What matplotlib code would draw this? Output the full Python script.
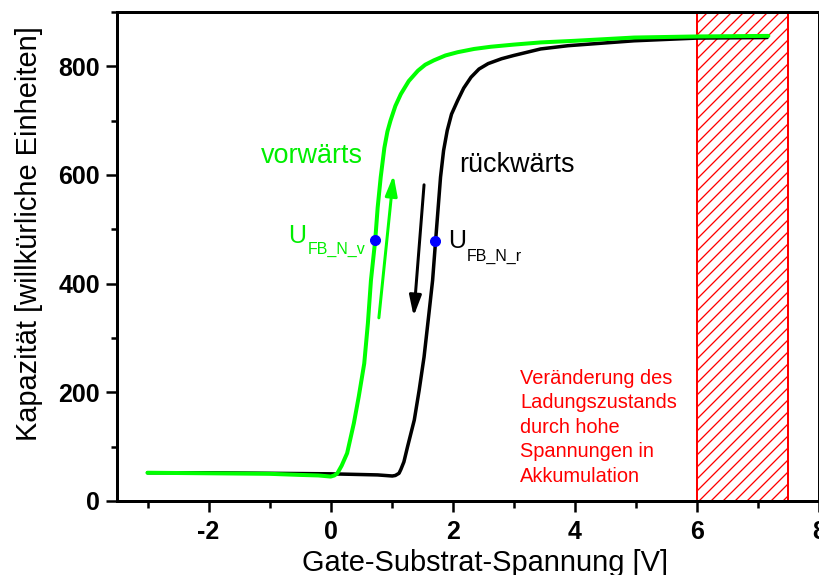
import matplotlib.pyplot as plt
from matplotlib.ticker import MultipleLocator

plt.rcParams['font.family'] = ['Liberation Sans', 'DejaVu Sans']
plt.rcParams['hatch.linewidth'] = 1.3
plt.rcParams['axes.unicode_minus'] = False

# vorwärts sweep (green)
fwd_v = [-3.0, -2.0, -1.0, -0.5, -0.2, 0.0, 0.06, 0.11, 0.18, 0.27, 0.38, 0.46,
         0.55, 0.61, 0.66, 0.73, 0.77, 0.82, 0.88, 0.93, 0.98, 1.06, 1.15, 1.28,
         1.43, 1.55, 1.69, 1.88, 2.08, 2.35, 2.62, 3.0, 3.44, 4.0, 4.97, 6.0, 7.17]
fwd_c = [52, 51, 50, 48, 47, 45, 47, 51, 65, 88, 143, 192,
         253, 327, 406, 480, 540, 596, 650, 680, 700, 727, 749, 773,
         792, 803, 811, 820, 826, 832, 836, 840, 844, 847, 853, 855, 856]

# rückwärts sweep (black)
bwd_v = [7.15, 6.0, 4.97, 3.89, 3.44, 3.0, 2.8, 2.58, 2.43, 2.3, 2.18, 2.08,
         1.98, 1.91, 1.85, 1.8, 1.72, 1.67, 1.61, 1.53, 1.45, 1.37, 1.26, 1.2,
         1.15, 1.12, 1.06, 1.01, 0.77, 0.0, -1.0, -2.0, -3.0]
bwd_c = [853, 852, 847, 838, 832, 820, 814, 805, 795, 780, 760, 737,
         712, 682, 645, 596, 480, 406, 345, 265, 204, 149, 100, 72,
         58, 51, 47, 46, 48, 50, 51, 52, 52]

# flat band points
fb_v = [0.73, 1.71]
fb_c = [480, 479]

# accumulation region
box_span = [6.0, 7.5]

fig = plt.figure(figsize=(819 / 72, 575 / 72), dpi=72)
ax = fig.add_axes([117 / 819, 74 / 575, 702 / 819, 489 / 575])

ax.axvspan(box_span[0], box_span[1], facecolor='none', edgecolor='#ff0000',
           hatch='//', lw=2, zorder=1)

ax.plot(bwd_v, bwd_c, color='black', lw=3.5, zorder=3,
        solid_joinstyle='round', solid_capstyle='round')
ax.plot(fwd_v, fwd_c, color='#00ff00', lw=4, zorder=4,
        solid_joinstyle='round', solid_capstyle='round')
ax.plot(fb_v, fb_c, 'o', color='#0000ff', ms=10, zorder=5)

# sweep direction arrows
ax.annotate('', xy=(1.03, 600), xytext=(0.79, 337),
            arrowprops=dict(arrowstyle='-|>,head_length=0.85,head_width=0.25',
                            color='#00ff00', lw=3, mutation_scale=20,
                            shrinkA=0, shrinkB=0))
ax.annotate('', xy=(1.36, 340), xytext=(1.53, 582),
            arrowprops=dict(arrowstyle='-|>,head_length=0.85,head_width=0.25',
                            color='black', lw=3, mutation_scale=20,
                            shrinkA=0, shrinkB=0))

ax.text(-1.14, 622, 'vorwärts', color='#00ee00', fontsize=27, va='baseline')
ax.text(2.1, 606, 'rückwärts', color='black', fontsize=27, va='baseline')

ax.text(-0.69, 474, 'U', color='#00ee00', fontsize=25, va='baseline')
ax.text(-0.38, 455, 'FB_N_v', color='#00ee00', fontsize=16, va='baseline')
ax.text(1.92, 466, 'U', color='black', fontsize=25, va='baseline')
ax.text(2.23, 442, 'FB_N_r', color='black', fontsize=16, va='baseline')

ax.text(3.1, 243, 'Veränderung des\nLadungszustands\ndurch hohe\nSpannungen in\nAkkumulation',
        color='#ff0000', fontsize=20, va='top', ha='left', linespacing=1.36)

ax.set_xlim(-3.5, 8)
ax.set_ylim(0, 900)
ax.set_xticks(range(-2, 9, 2))
ax.set_yticks(range(0, 801, 200))
ax.xaxis.set_minor_locator(MultipleLocator(1))
ax.yaxis.set_minor_locator(MultipleLocator(100))
ax.tick_params(which='major', direction='out', length=11, width=2.5, labelsize=25)
ax.tick_params(which='minor', direction='out', length=6.5, width=2.5)
ax.tick_params(axis='x', which='major', pad=8)
ax.tick_params(axis='y', which='major', pad=6)
for lbl in ax.get_xticklabels() + ax.get_yticklabels():
    lbl.set_fontweight('bold')
for sp in ax.spines.values():
    sp.set_linewidth(3)

ax.set_xlabel('Gate-Substrat-Spannung [V]', fontsize=29, va='center')
ax.xaxis.set_label_coords((485 - 117) / 702, (501 - 563) / 489)
ax.set_ylabel('Kapazität [willkürliche Einheiten]', fontsize=29, va='center')
ax.yaxis.set_label_coords((29 - 117) / 702, (501 - 234) / 489)

fig.savefig('out.png', dpi=72)
